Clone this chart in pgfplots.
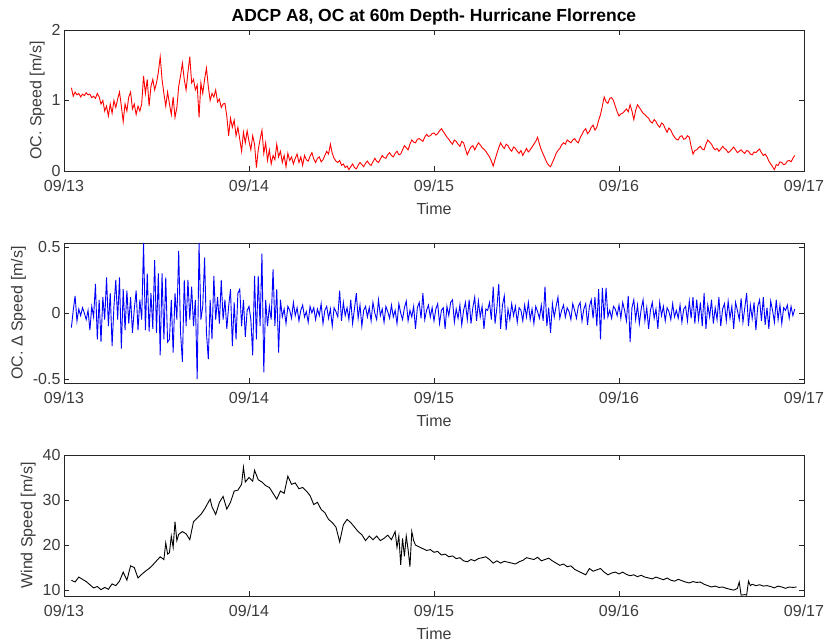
\documentclass[border=0pt]{standalone}
\usepackage{fontspec}
\setmainfont{Liberation Sans}
\usepackage{pgfplots}
\usepackage{pgfplotstable}
\pgfplotsset{compat=1.18}
\definecolor{axgray}{RGB}{38,38,38}
\definecolor{txtgray}{RGB}{60,60,60}

\pgfplotstableread[row sep=\\]{x y\\
0.04 1.18\\ 0.05 1.06\\ 0.06 1.12\\ 0.07 1.08\\ 0.08 1.10\\ 0.09 1.05\\ 0.10 1.09\\ 0.11 1.07\\ 0.12 1.11\\ 0.13 1.08\\
0.14 1.09\\ 0.15 1.04\\ 0.16 1.06\\ 0.17 1.03\\ 0.18 1.10\\ 0.19 1.05\\ 0.20 0.95\\ 0.21 1.00\\ 0.22 0.85\\ 0.23 0.92\\
0.24 0.78\\ 0.25 0.95\\ 0.26 0.82\\ 0.27 1.00\\ 0.28 0.90\\ 0.29 1.02\\ 0.30 1.12\\ 0.31 0.92\\ 0.32 0.70\\ 0.33 0.95\\
0.34 0.85\\ 0.35 1.05\\ 0.36 1.12\\ 0.37 0.88\\ 0.38 0.95\\ 0.39 0.80\\ 0.40 0.92\\ 0.41 0.85\\ 0.42 0.95\\ 0.43 1.35\\
0.44 1.10\\ 0.45 1.30\\ 0.46 0.92\\ 0.47 1.20\\ 0.48 1.30\\ 0.49 1.15\\ 0.50 1.25\\ 0.51 1.40\\ 0.52 1.62\\ 0.53 1.30\\
0.54 1.10\\ 0.55 0.92\\ 0.56 1.12\\ 0.57 0.95\\ 0.58 0.80\\ 0.59 1.05\\ 0.60 0.76\\ 0.61 0.90\\ 0.62 1.20\\ 0.63 1.35\\
0.64 1.53\\ 0.65 1.30\\ 0.66 1.15\\ 0.67 1.40\\ 0.68 1.62\\ 0.69 1.25\\ 0.70 1.30\\ 0.71 1.15\\ 0.72 1.22\\ 0.73 0.76\\
0.74 1.25\\ 0.75 1.10\\ 0.76 1.30\\ 0.77 1.46\\ 0.78 1.20\\ 0.79 1.00\\ 0.80 1.10\\ 0.81 1.05\\ 0.82 1.15\\ 0.83 0.98\\
0.84 1.02\\ 0.85 0.90\\ 0.86 0.95\\ 0.87 0.96\\ 0.88 0.78\\ 0.89 0.50\\ 0.90 0.75\\ 0.91 0.62\\ 0.92 0.72\\ 0.93 0.50\\
0.94 0.62\\ 0.95 0.45\\ 0.96 0.28\\ 0.97 0.55\\ 0.98 0.40\\ 0.99 0.57\\ 1.00 0.42\\ 1.01 0.30\\ 1.02 0.50\\ 1.03 0.38\\
1.04 0.05\\ 1.05 0.30\\ 1.06 0.45\\ 1.07 0.58\\ 1.08 0.25\\ 1.09 0.40\\ 1.10 0.15\\ 1.11 0.30\\ 1.12 0.10\\ 1.13 0.22\\
1.14 0.16\\ 1.15 0.38\\ 1.16 0.20\\ 1.17 0.28\\ 1.18 0.12\\ 1.19 0.22\\ 1.20 0.06\\ 1.21 0.25\\ 1.22 0.15\\ 1.23 0.20\\
1.24 0.10\\ 1.25 0.18\\ 1.26 0.24\\ 1.27 0.12\\ 1.28 0.20\\ 1.29 0.08\\ 1.30 0.22\\ 1.31 0.16\\
1.32 0.14\\ 1.33 0.21\\ 1.34 0.26\\ 1.35 0.17\\ 1.36 0.12\\ 1.37 0.18\\ 1.38 0.20\\ 1.39 0.13\\ 1.40 0.16\\ 1.41 0.22\\
1.42 0.28\\ 1.43 0.24\\ 1.44 0.38\\ 1.45 0.25\\ 1.46 0.18\\ 1.47 0.14\\ 1.48 0.12\\ 1.49 0.15\\ 1.50 0.08\\ 1.51 0.10\\
1.52 0.05\\ 1.53 0.07\\ 1.54 0.02\\ 1.55 0.06\\ 1.56 0.10\\ 1.57 0.05\\ 1.58 0.03\\ 1.59 0.08\\ 1.60 0.12\\ 1.61 0.09\\
1.62 0.06\\ 1.63 0.11\\ 1.64 0.14\\ 1.65 0.10\\ 1.66 0.08\\ 1.67 0.13\\ 1.68 0.18\\ 1.69 0.14\\ 1.70 0.12\\ 1.71 0.17\\
1.72 0.22\\ 1.73 0.19\\ 1.74 0.18\\ 1.75 0.23\\ 1.76 0.26\\ 1.77 0.22\\ 1.78 0.20\\ 1.79 0.25\\ 1.80 0.28\\ 1.81 0.23\\
1.82 0.24\\ 1.83 0.30\\ 1.84 0.36\\ 1.85 0.33\\ 1.86 0.30\\ 1.87 0.38\\ 1.88 0.44\\ 1.89 0.41\\ 1.90 0.40\\ 1.91 0.45\\
1.92 0.46\\ 1.93 0.44\\ 1.94 0.42\\ 1.95 0.48\\ 1.96 0.52\\ 1.97 0.49\\ 1.98 0.50\\ 1.99 0.53\\ 2.00 0.54\\ 2.01 0.51\\
2.02 0.53\\ 2.03 0.57\\ 2.04 0.60\\ 2.05 0.56\\ 2.06 0.52\\ 2.07 0.48\\ 2.08 0.45\\ 2.09 0.41\\ 2.10 0.38\\ 2.11 0.44\\
2.12 0.42\\ 2.13 0.38\\ 2.14 0.35\\ 2.15 0.42\\ 2.16 0.40\\ 2.17 0.31\\ 2.18 0.23\\ 2.19 0.29\\ 2.20 0.34\\ 2.21 0.36\\
2.22 0.30\\ 2.23 0.35\\ 2.24 0.40\\ 2.25 0.37\\ 2.26 0.33\\ 2.27 0.31\\ 2.28 0.28\\ 2.29 0.24\\ 2.30 0.20\\ 2.31 0.14\\
2.32 0.07\\ 2.33 0.16\\ 2.34 0.25\\ 2.35 0.33\\ 2.36 0.40\\ 2.37 0.35\\ 2.38 0.32\\ 2.39 0.38\\ 2.40 0.36\\ 2.41 0.31\\
2.42 0.28\\ 2.43 0.34\\ 2.44 0.32\\ 2.45 0.28\\ 2.46 0.25\\ 2.47 0.29\\ 2.48 0.22\\ 2.49 0.27\\ 2.50 0.32\\ 2.51 0.27\\
2.52 0.30\\ 2.53 0.34\\ 2.54 0.38\\ 2.55 0.42\\ 2.56 0.48\\ 2.57 0.38\\ 2.58 0.30\\ 2.59 0.24\\ 2.60 0.18\\ 2.61 0.12\\
2.62 0.08\\ 2.63 0.06\\ 2.64 0.12\\ 2.65 0.18\\ 2.66 0.25\\ 2.67 0.29\\ 2.68 0.32\\ 2.69 0.37\\ 2.70 0.40\\ 2.71 0.38\\
2.72 0.44\\ 2.73 0.42\\ 2.74 0.40\\ 2.75 0.44\\ 2.76 0.46\\ 2.77 0.42\\ 2.78 0.40\\ 2.79 0.47\\ 2.80 0.52\\ 2.81 0.57\\
2.82 0.60\\ 2.83 0.53\\ 2.84 0.56\\ 2.85 0.62\\ 2.86 0.65\\ 2.87 0.58\\ 2.88 0.62\\ 2.89 0.72\\ 2.90 0.80\\ 2.91 0.92\\
2.92 1.05\\ 2.93 0.98\\ 2.94 0.96\\ 2.95 1.03\\ 2.96 1.04\\ 2.97 1.00\\ 2.98 0.92\\ 2.99 0.84\\ 3.00 0.78\\ 3.01 0.81\\
3.02 0.82\\ 3.03 0.85\\ 3.04 0.88\\ 3.05 0.84\\ 3.06 0.94\\ 3.07 0.85\\ 3.08 0.73\\ 3.09 0.86\\ 3.10 0.94\\ 3.11 0.90\\
3.12 0.86\\ 3.13 0.82\\ 3.14 0.80\\ 3.15 0.77\\ 3.16 0.75\\ 3.17 0.70\\ 3.18 0.68\\ 3.19 0.73\\ 3.20 0.70\\ 3.21 0.65\\
3.22 0.62\\ 3.23 0.68\\ 3.24 0.66\\ 3.25 0.60\\ 3.26 0.55\\ 3.27 0.61\\ 3.28 0.58\\ 3.29 0.52\\ 3.30 0.48\\ 3.31 0.45\\
3.32 0.44\\ 3.33 0.49\\ 3.34 0.50\\ 3.35 0.45\\ 3.36 0.46\\ 3.37 0.50\\ 3.38 0.48\\ 3.39 0.35\\ 3.40 0.24\\ 3.41 0.29\\
3.42 0.30\\ 3.43 0.33\\ 3.44 0.35\\ 3.45 0.31\\ 3.46 0.30\\ 3.47 0.38\\ 3.48 0.44\\ 3.49 0.41\\ 3.50 0.38\\ 3.51 0.33\\
3.52 0.30\\ 3.53 0.32\\ 3.54 0.28\\ 3.55 0.31\\ 3.56 0.35\\ 3.57 0.32\\ 3.58 0.30\\ 3.59 0.26\\ 3.60 0.28\\ 3.61 0.31\\
3.62 0.34\\ 3.63 0.30\\ 3.64 0.26\\ 3.65 0.28\\ 3.66 0.30\\ 3.67 0.27\\ 3.68 0.25\\ 3.69 0.29\\ 3.70 0.28\\ 3.71 0.24\\
3.72 0.23\\ 3.73 0.27\\ 3.74 0.26\\ 3.75 0.29\\ 3.76 0.31\\ 3.77 0.26\\ 3.78 0.22\\ 3.79 0.24\\ 3.80 0.20\\ 3.81 0.14\\
3.82 0.10\\ 3.83 0.06\\ 3.84 0.02\\ 3.85 0.09\\ 3.86 0.08\\ 3.87 0.13\\ 3.88 0.12\\ 3.89 0.09\\ 3.90 0.10\\ 3.91 0.14\\
3.92 0.15\\ 3.93 0.13\\ 3.94 0.18\\ 3.95 0.22\\
}\speedtab

\pgfplotstableread[row sep=\\]{x y\\
0.04 -0.11\\ 0.05 0.02\\ 0.06 0.13\\ 0.07 -0.06\\ 0.08 0.03\\ 0.09 -0.02\\ 0.10 0.04\\ 0.11 0.00\\ 0.12 -0.05\\ 0.13 0.02\\
0.14 -0.13\\ 0.15 0.05\\ 0.16 -0.03\\ 0.17 0.22\\ 0.18 -0.20\\ 0.19 0.10\\ 0.20 -0.22\\ 0.21 0.12\\ 0.22 -0.05\\ 0.23 0.27\\
0.24 -0.10\\ 0.25 0.15\\ 0.26 -0.25\\ 0.27 0.05\\ 0.28 0.25\\ 0.29 -0.05\\ 0.30 0.27\\ 0.31 -0.27\\ 0.32 0.18\\ 0.33 -0.13\\
0.34 0.17\\ 0.35 -0.08\\ 0.36 0.12\\ 0.37 -0.15\\ 0.38 0.03\\ 0.39 0.17\\ 0.40 -0.13\\ 0.41 0.10\\ 0.42 -0.05\\ 0.43 0.53\\
0.44 -0.13\\ 0.45 0.30\\ 0.46 -0.14\\ 0.47 0.15\\ 0.48 -0.12\\ 0.49 0.40\\ 0.50 -0.15\\ 0.51 0.30\\ 0.52 -0.32\\ 0.53 0.30\\
0.54 -0.20\\ 0.55 0.27\\ 0.56 -0.22\\ 0.57 -0.20\\ 0.58 0.10\\ 0.59 -0.30\\ 0.60 0.15\\ 0.61 -0.05\\ 0.62 0.47\\ 0.63 -0.15\\
0.64 -0.37\\ 0.65 0.25\\ 0.66 -0.10\\ 0.67 0.25\\ 0.68 -0.05\\ 0.69 0.20\\ 0.70 -0.10\\ 0.71 0.10\\ 0.72 -0.50\\ 0.73 0.53\\
0.74 -0.05\\ 0.75 0.05\\ 0.76 0.42\\ 0.77 -0.15\\ 0.78 -0.35\\ 0.79 0.10\\ 0.80 -0.20\\ 0.81 0.28\\ 0.82 -0.05\\ 0.83 0.12\\
0.84 -0.08\\ 0.85 0.25\\ 0.86 -0.05\\ 0.87 0.10\\ 0.88 -0.12\\ 0.89 0.05\\ 0.90 0.18\\ 0.91 -0.25\\ 0.92 0.08\\ 0.93 -0.20\\
0.94 0.15\\ 0.95 0.18\\ 0.96 -0.10\\ 0.97 0.10\\ 0.98 -0.18\\ 0.99 0.02\\ 1.00 0.05\\ 1.01 -0.05\\ 1.02 -0.32\\ 1.03 0.28\\
1.04 -0.20\\ 1.05 0.28\\ 1.06 -0.10\\ 1.07 0.45\\ 1.08 -0.45\\ 1.09 0.10\\ 1.10 -0.10\\ 1.11 0.05\\ 1.12 -0.05\\ 1.13 0.33\\
1.14 -0.10\\ 1.15 0.18\\ 1.16 -0.30\\ 1.17 0.10\\ 1.18 -0.03\\ 1.19 0.03\\ 1.20 -0.08\\ 1.21 0.05\\ 1.22 0.02\\ 1.23 -0.04\\
1.24 0.08\\ 1.25 -0.02\\ 1.26 0.04\\ 1.27 -0.06\\ 1.28 0.02\\ 1.29 0.06\\ 1.30 -0.03\\ 1.31 0.01\\ 1.32 -0.07\\ 1.33 0.05\\
1.34 0.00\\ 1.35 0.04\\ 1.36 -0.05\\ 1.37 0.03\\ 1.38 -0.02\\ 1.39 0.07\\ 1.40 -0.08\\ 1.41 0.02\\ 1.42 0.05\\ 1.43 -0.04\\
1.44 0.03\\ 1.45 -0.10\\ 1.46 0.04\\ 1.47 0.01\\ 1.48 -0.03\\ 1.49 0.17\\ 1.50 -0.06\\ 1.51 0.08\\ 1.52 -0.02\\ 1.53 0.04\\
1.54 -0.05\\ 1.55 0.10\\ 1.56 -0.08\\ 1.57 0.03\\ 1.58 0.15\\ 1.59 -0.04\\ 1.60 0.06\\ 1.61 -0.10\\ 1.62 0.02\\ 1.63 0.05\\
1.64 -0.03\\ 1.65 0.04\\ 1.66 -0.06\\ 1.67 0.08\\ 1.68 0.00\\ 1.69 -0.05\\ 1.70 0.10\\ 1.71 -0.02\\ 1.72 0.03\\ 1.73 -0.07\\
1.74 0.05\\ 1.75 0.01\\ 1.76 -0.04\\ 1.77 0.06\\ 1.78 -0.03\\ 1.79 0.02\\ 1.80 -0.08\\ 1.81 0.07\\ 1.82 0.00\\ 1.83 -0.05\\
1.84 0.04\\ 1.85 0.09\\ 1.86 -0.06\\ 1.87 0.02\\ 1.88 -0.03\\ 1.89 0.05\\ 1.90 -0.12\\ 1.91 0.04\\ 1.92 0.08\\ 1.93 -0.04\\
1.94 0.15\\ 1.95 -0.05\\ 1.96 0.02\\ 1.97 0.06\\ 1.98 -0.03\\ 1.99 0.04\\ 2.00 -0.06\\ 2.01 0.03\\ 2.02 0.07\\ 2.03 -0.08\\
2.04 0.02\\ 2.05 0.04\\ 2.06 -0.12\\ 2.07 0.05\\ 2.08 -0.02\\ 2.09 0.08\\ 2.10 0.10\\ 2.11 -0.07\\ 2.12 0.03\\ 2.13 -0.04\\
2.14 0.06\\ 2.15 -0.09\\ 2.16 0.02\\ 2.17 0.08\\ 2.18 -0.05\\ 2.19 0.10\\ 2.20 -0.08\\ 2.21 0.04\\ 2.22 0.12\\ 2.23 -0.06\\
2.24 0.09\\ 2.25 -0.03\\ 2.26 0.05\\ 2.27 -0.12\\ 2.28 0.03\\ 2.29 0.02\\ 2.30 0.08\\ 2.31 -0.05\\ 2.32 0.20\\ 2.33 -0.08\\
2.34 0.04\\ 2.35 0.22\\ 2.36 -0.12\\ 2.37 0.06\\ 2.38 0.13\\ 2.39 -0.13\\ 2.40 0.03\\ 2.41 -0.05\\ 2.42 0.07\\ 2.43 -0.02\\
2.44 0.05\\ 2.45 -0.07\\ 2.46 0.04\\ 2.47 0.02\\ 2.48 -0.06\\ 2.49 0.06\\ 2.50 -0.03\\ 2.51 0.08\\ 2.52 -0.05\\ 2.53 0.03\\
2.54 -0.08\\ 2.55 0.05\\ 2.56 0.01\\ 2.57 -0.04\\ 2.58 0.06\\ 2.59 -0.06\\ 2.60 0.20\\ 2.61 -0.10\\ 2.62 0.04\\ 2.63 -0.15\\
2.64 0.07\\ 2.65 -0.03\\ 2.66 0.05\\ 2.67 0.12\\ 2.68 -0.04\\ 2.69 0.02\\ 2.70 0.06\\ 2.71 -0.03\\ 2.72 0.04\\ 2.73 0.01\\
2.74 -0.05\\ 2.75 0.07\\ 2.76 0.02\\ 2.77 -0.04\\ 2.78 0.05\\ 2.79 0.08\\ 2.80 -0.06\\ 2.81 0.03\\ 2.82 0.07\\ 2.83 -0.09\\
2.84 0.05\\ 2.85 0.10\\ 2.86 -0.04\\ 2.87 0.12\\ 2.88 -0.10\\ 2.89 0.18\\ 2.90 -0.20\\ 2.91 0.19\\ 2.92 -0.05\\ 2.93 0.19\\
2.94 -0.03\\ 2.95 0.02\\ 2.96 -0.04\\ 2.97 0.05\\ 2.98 0.03\\ 2.99 -0.02\\ 3.00 0.06\\ 3.01 -0.04\\ 3.02 0.08\\ 3.03 0.02\\
3.04 -0.06\\ 3.05 0.13\\ 3.06 -0.22\\ 3.07 0.04\\ 3.08 0.10\\ 3.09 -0.05\\ 3.10 0.06\\ 3.11 -0.08\\ 3.12 0.03\\ 3.13 0.10\\
3.14 -0.06\\ 3.15 0.04\\ 3.16 -0.12\\ 3.17 0.02\\ 3.18 0.08\\ 3.19 -0.04\\ 3.20 0.03\\ 3.21 -0.12\\ 3.22 0.08\\ 3.23 -0.02\\
3.24 0.05\\ 3.25 -0.06\\ 3.26 0.04\\ 3.27 0.01\\ 3.28 -0.05\\ 3.29 0.07\\ 3.30 -0.03\\ 3.31 0.02\\ 3.32 -0.04\\ 3.33 0.06\\
3.34 -0.07\\ 3.35 0.03\\ 3.36 0.05\\ 3.37 -0.06\\ 3.38 0.09\\ 3.39 -0.04\\ 3.40 0.12\\ 3.41 -0.08\\ 3.42 0.10\\ 3.43 -0.05\\
3.44 0.08\\ 3.45 -0.10\\ 3.46 0.15\\ 3.47 -0.12\\ 3.48 0.06\\ 3.49 -0.03\\ 3.50 0.10\\ 3.51 -0.08\\ 3.52 0.04\\ 3.53 -0.05\\
3.54 0.12\\ 3.55 -0.10\\ 3.56 0.03\\ 3.57 0.07\\ 3.58 -0.06\\ 3.59 0.09\\ 3.60 -0.04\\ 3.61 0.05\\ 3.62 -0.12\\ 3.63 0.08\\
3.64 0.02\\ 3.65 -0.05\\ 3.66 0.11\\ 3.67 -0.07\\ 3.68 0.04\\ 3.69 0.15\\ 3.70 -0.10\\ 3.71 0.06\\ 3.72 -0.04\\ 3.73 0.08\\
3.74 -0.13\\ 3.75 0.05\\ 3.76 0.10\\ 3.77 -0.06\\ 3.78 0.12\\ 3.79 -0.09\\ 3.80 0.04\\ 3.81 -0.12\\ 3.82 0.09\\ 3.83 0.02\\
3.84 -0.07\\ 3.85 0.10\\ 3.86 -0.05\\ 3.87 0.06\\ 3.88 -0.08\\ 3.89 0.04\\ 3.90 0.02\\ 3.91 0.06\\ 3.92 -0.04\\ 3.93 0.05\\
3.94 -0.02\\ 3.95 0.03\\
}\deltatab

\pgfplotstableread[row sep=\\]{x y\\
0.04 12.2\\ 0.06 11.8\\ 0.08 12.9\\ 0.10 12.4\\ 0.12 11.9\\ 0.14 11.2\\ 0.16 10.5\\ 0.18 10.8\\ 0.20 10.1\\ 0.22 10.6\\
0.24 10.2\\ 0.26 11.4\\ 0.28 11.0\\ 0.30 12.0\\ 0.32 14.0\\ 0.34 12.2\\ 0.36 15.4\\ 0.38 15.0\\ 0.40 12.7\\ 0.42 13.5\\
0.44 14.2\\ 0.46 14.8\\ 0.48 15.6\\ 0.50 16.5\\ 0.52 17.4\\ 0.54 16.8\\ 0.55 20.5\\ 0.56 18.0\\ 0.57 18.3\\ 0.58 22.0\\
0.59 19.5\\ 0.60 25.2\\ 0.61 21.0\\ 0.62 22.4\\ 0.64 23.0\\ 0.66 22.5\\ 0.68 21.2\\ 0.70 25.2\\ 0.72 26.0\\ 0.74 26.8\\
0.76 28.0\\ 0.78 29.5\\ 0.79 30.2\\ 0.80 28.5\\ 0.82 26.8\\ 0.84 29.5\\ 0.86 30.8\\ 0.88 28.0\\ 0.90 29.5\\ 0.92 32.0\\
0.94 32.2\\ 0.96 33.5\\ 0.97 37.3\\ 0.98 34.0\\ 1.00 35.0\\ 1.02 34.2\\ 1.03 36.6\\ 1.05 34.5\\ 1.07 34.0\\ 1.09 33.2\\
1.11 32.8\\ 1.13 31.5\\ 1.15 30.2\\ 1.17 32.0\\ 1.19 31.5\\ 1.21 35.3\\ 1.23 33.5\\ 1.25 33.8\\ 1.27 32.5\\ 1.29 32.8\\
1.31 32.0\\ 1.33 31.0\\ 1.35 29.0\\ 1.37 29.5\\ 1.39 27.9\\ 1.41 27.2\\ 1.43 25.7\\ 1.45 25.0\\ 1.47 24.0\\ 1.49 20.7\\
1.51 24.5\\ 1.53 25.7\\ 1.55 25.0\\ 1.57 24.0\\ 1.59 23.0\\ 1.61 22.3\\ 1.63 21.0\\ 1.65 22.0\\ 1.67 21.2\\ 1.69 22.0\\
1.71 21.0\\ 1.73 21.5\\ 1.75 22.2\\ 1.77 21.2\\ 1.79 23.0\\ 1.80 19.5\\ 1.81 22.0\\ 1.82 15.6\\ 1.83 21.5\\ 1.84 17.5\\
1.85 22.0\\ 1.86 19.0\\ 1.87 15.2\\ 1.88 23.0\\ 1.89 21.0\\ 1.90 20.0\\ 1.92 19.6\\ 1.94 19.2\\ 1.96 18.8\\ 1.98 19.0\\
2.00 18.4\\ 2.02 18.6\\ 2.04 17.8\\ 2.06 18.0\\ 2.08 17.4\\ 2.10 17.6\\ 2.12 17.0\\ 2.14 17.2\\ 2.16 16.5\\ 2.18 16.3\\
2.20 16.8\\ 2.22 16.5\\ 2.24 17.0\\ 2.26 17.2\\ 2.28 17.4\\ 2.30 16.8\\ 2.32 16.0\\ 2.34 16.5\\ 2.36 16.0\\ 2.38 16.4\\
2.40 16.2\\ 2.42 16.0\\ 2.44 15.8\\ 2.46 16.3\\ 2.48 16.6\\ 2.50 17.2\\ 2.52 17.0\\ 2.54 16.8\\ 2.56 17.3\\ 2.58 16.5\\
2.60 16.8\\ 2.62 17.1\\ 2.64 16.5\\ 2.66 16.0\\ 2.68 15.5\\ 2.70 15.8\\ 2.72 15.2\\ 2.74 15.4\\ 2.76 14.6\\ 2.78 14.2\\
2.80 13.8\\ 2.82 13.4\\ 2.84 14.8\\ 2.86 14.2\\ 2.88 14.5\\ 2.90 14.8\\ 2.92 14.0\\ 2.94 13.4\\ 2.96 13.8\\ 2.98 14.0\\
3.00 13.6\\ 3.02 14.0\\ 3.04 13.5\\ 3.06 13.2\\ 3.08 13.4\\ 3.10 13.0\\ 3.12 13.3\\ 3.14 12.9\\ 3.16 12.7\\ 3.18 12.5\\
3.20 12.9\\ 3.22 12.6\\ 3.24 12.3\\ 3.26 12.7\\ 3.28 12.2\\ 3.30 12.0\\ 3.32 12.4\\ 3.34 12.1\\ 3.36 11.8\\ 3.38 11.6\\
3.40 11.9\\ 3.42 11.7\\ 3.44 11.8\\ 3.46 11.3\\ 3.48 11.0\\ 3.50 10.7\\ 3.52 10.9\\ 3.54 10.6\\ 3.56 10.7\\ 3.58 10.4\\
3.60 10.2\\ 3.62 10.0\\ 3.64 10.4\\ 3.65 11.8\\ 3.66 8.9\\ 3.68 9.0\\ 3.69 8.9\\ 3.70 12.0\\ 3.71 11.0\\ 3.72 11.3\\
3.74 11.0\\ 3.76 11.2\\ 3.78 10.9\\ 3.80 11.0\\ 3.82 10.8\\ 3.84 10.5\\ 3.86 10.9\\ 3.88 10.7\\ 3.90 10.4\\ 3.92 10.7\\
3.94 10.6\\ 3.96 10.7\\
}\windtab

\pgfplotsset{
  mlpanel/.style={
    scale only axis, width=740pt, anchor=south west,
    xmin=0, xmax=4, xtick={0,1,2,3,4},
    xticklabels={09/13,09/14,09/15,09/16,09/17},
    tick align=inside, major tick length=5pt,
    axis line style={axgray, line width=0.8pt},
    tick style={axgray, line width=0.8pt},
    ticklabel style={font=\fontsize{16}{18}\selectfont, text=txtgray},
    xticklabel style={yshift=-5pt},
    label style={font=\fontsize{16}{18}\selectfont, text=txtgray},
    xlabel style={yshift=-5pt},
    xlabel={Time},
    /pgf/number format/assume math mode=true,
    every axis plot/.append style={line width=0.9pt, no markers},
  }
}

\begin{document}
\begin{tikzpicture}[x=1pt,y=1pt]
\path[use as bounding box] (0,0) rectangle (825,644);

\begin{axis}[mlpanel, at={(64pt,473pt)}, height=141pt,
  ymin=0, ymax=2, ytick={0,1,2},
  ylabel={OC. Speed [m/s]},
  title={ADCP A8, OC at 60m Depth- Hurricane Florrence},
  title style={font=\bfseries\fontsize{17.5}{20}\selectfont, text=black, yshift=-5pt}]
\addplot[red] table {\speedtab};
\end{axis}

\begin{axis}[mlpanel, at={(64pt,261pt)}, height=140pt,
  ymin=-0.53, ymax=0.53, ytick={-0.5,0,0.5}, yticklabels={-0.5,0,0.5},
  ylabel={OC. Δ Speed [m/s]}]
\addplot[blue] table {\deltatab};
\end{axis}

\begin{axis}[mlpanel, at={(64pt,48pt)}, height=141pt,
  ymin=8.7, ymax=40, ytick={10,20,30,40},
  ylabel={Wind Speed [m/s]}]
\addplot[black] table {\windtab};
\end{axis}
\end{tikzpicture}
\end{document}
